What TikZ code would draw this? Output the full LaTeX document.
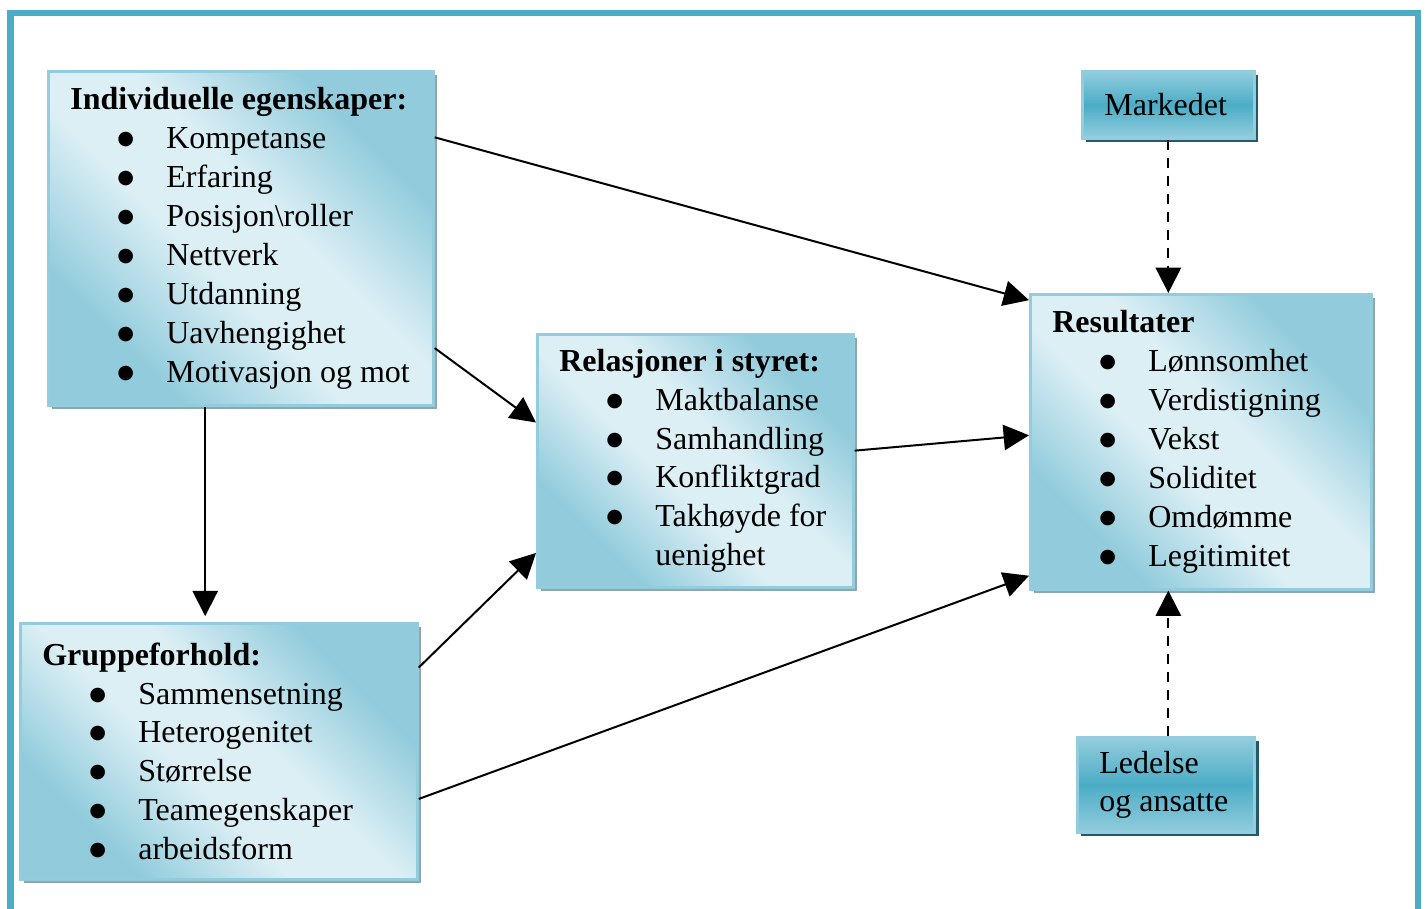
\documentclass[tikz,border=0pt]{standalone}
\usepackage{fontspec}
\setmainfont{Liberation Serif}
\newfontfamily\symfont{DejaVu Sans}
\usetikzlibrary{arrows.meta,calc,shadows}

\definecolor{framecol}{HTML}{4BACC6}
\definecolor{blight}{HTML}{DCEFF5}
\definecolor{bdark}{HTML}{92CCDC}
\definecolor{bline}{HTML}{93CDDD}
\definecolor{bshadow}{HTML}{8DA6AF}
\definecolor{sdark}{HTML}{4BACC6}
\definecolor{slight}{HTML}{93CDDD}
\definecolor{sshadow}{HTML}{24596A}

\pgfdeclarehorizontalshading{listshade}{100bp}{color(0bp)=(bdark); color(28bp)=(bdark); color(44bp)=(blight); color(56bp)=(blight); color(72bp)=(bdark); color(100bp)=(bdark)}
\pgfdeclareverticalshading{tabshade}{100bp}{color(0bp)=(slight); color(25bp)=(slight); color(50bp)=(sdark); color(75bp)=(slight); color(100bp)=(slight)}

\newcommand\bitem[1]{\makebox[36pt][l]{\hspace{17.6pt}\raisebox{1.5pt}{\symfont\fontsize{7.2}{8}\selectfont ●}}\mbox{#1}}

\tikzset{
    listbox/.style={anchor=north west, draw=bline, line width=1pt, shading=listshade, shading angle=45,
        align=flush left, inner xsep=8.25pt, drop shadow={shadow xshift=1.5pt, shadow yshift=-1.5pt, fill=bshadow, opacity=1}},
    tabbox/.style={anchor=north west, draw=slight, line width=1pt, shading=tabshade,
        align=flush left, inner xsep=8.25pt, drop shadow={shadow xshift=1.5pt, shadow yshift=-1.5pt, fill=sshadow, opacity=1}},
    arr/.style={-{Triangle[length=9.5pt, width=9.5pt]}, line width=0.75pt},
}

\begin{document}
\begin{tikzpicture}[x=0.375pt, y=-0.375pt, every node/.style={font=\fontsize{12}{14.6}\selectfont}]
    \useasboundingbox (0,0) rectangle (1426,908);
    \draw[framecol, line width=2.4pt] (10.5,13) rectangle (1418,980);

    % boxes
    \node[listbox, text width=127.9pt, minimum width=144.4pt, minimum height=125.25pt] (indiv) at (47,70)
        {\textbf{Individuelle egenskaper:}\\ \bitem{Kompetanse}\\ \bitem{Erfaring}\\ \bitem{Posisjon\textbackslash roller}\\
         \bitem{Nettverk}\\ \bitem{Utdanning}\\ \bitem{Uavhengighet}\\ \bitem{Motivasjon og mot}};
    \node[listbox, text width=132.4pt, minimum width=148.9pt, minimum height=96pt] (gruppe) at (19,622)
        {\textbf{Gruppeforhold:}\\ \bitem{Sammensetning}\\ \bitem{Heterogenitet}\\ \bitem{Størrelse}\\
         \bitem{Teamegenskaper}\\ \bitem{arbeidsform}};
    \node[listbox, text width=102pt, minimum width=118.5pt, minimum height=94.9pt] (relasjon) at (536,333)
        {\textbf{Relasjoner i styret:}\\ \bitem{Maktbalanse}\\ \bitem{Samhandling}\\ \bitem{Konfliktgrad}\\
         \bitem{Takhøyde for}\\ \hspace*{36pt}uenighet};
    \node[listbox, text width=111.4pt, minimum width=127.9pt, minimum height=110.6pt] (resultat) at (1029,293)
        {\textbf{Resultater}\\ \bitem{Lønnsomhet}\\ \bitem{Verdistigning}\\ \bitem{Vekst}\\
         \bitem{Soliditet}\\ \bitem{Omdømme}\\ \bitem{Legitimitet}};
    \node[tabbox, text width=48pt, minimum width=64.5pt, minimum height=25.1pt] (marked) at (1081,70) {Markedet};
    \node[tabbox, text width=50pt, minimum width=66.4pt, minimum height=35.6pt] (ledelse) at (1076,736) {Ledelse\\og ansatte};

    % connectors
    \draw[arr] ($(indiv.north east)!0.2!(indiv.south east)$) -- ($(resultat.north west)!0.024!(resultat.south west)$);
    \draw[arr] ($(indiv.north east)!0.826!(indiv.south east)$) -- ($(relasjon.north west)!0.35!(relasjon.south west)$);
    \coordinate (down) at ($(indiv.south west)!0.408!(indiv.south east)$);
    \draw[arr, shorten >=2.2pt] (down) -- (down |- gruppe.north);
    \draw[arr] ($(gruppe.north east)!0.176!(gruppe.south east)$) -- ($(relasjon.north west)!0.86!(relasjon.south west)$);
    \draw[arr] ($(gruppe.north east)!0.684!(gruppe.south east)$) -- ($(resultat.north west)!0.95!(resultat.south west)$);
    \draw[arr] ($(relasjon.north east)!0.46!(relasjon.south east)$) -- ($(resultat.north west)!0.478!(resultat.south west)$);
    \draw[arr, dash pattern=on 3.75pt off 3pt] (marked.south) -- (marked.south |- resultat.north);
    \draw[arr, dash pattern=on 3.75pt off 3pt] (marked.south |- ledelse.north) -- (marked.south |- resultat.south);
\end{tikzpicture}
\end{document}
